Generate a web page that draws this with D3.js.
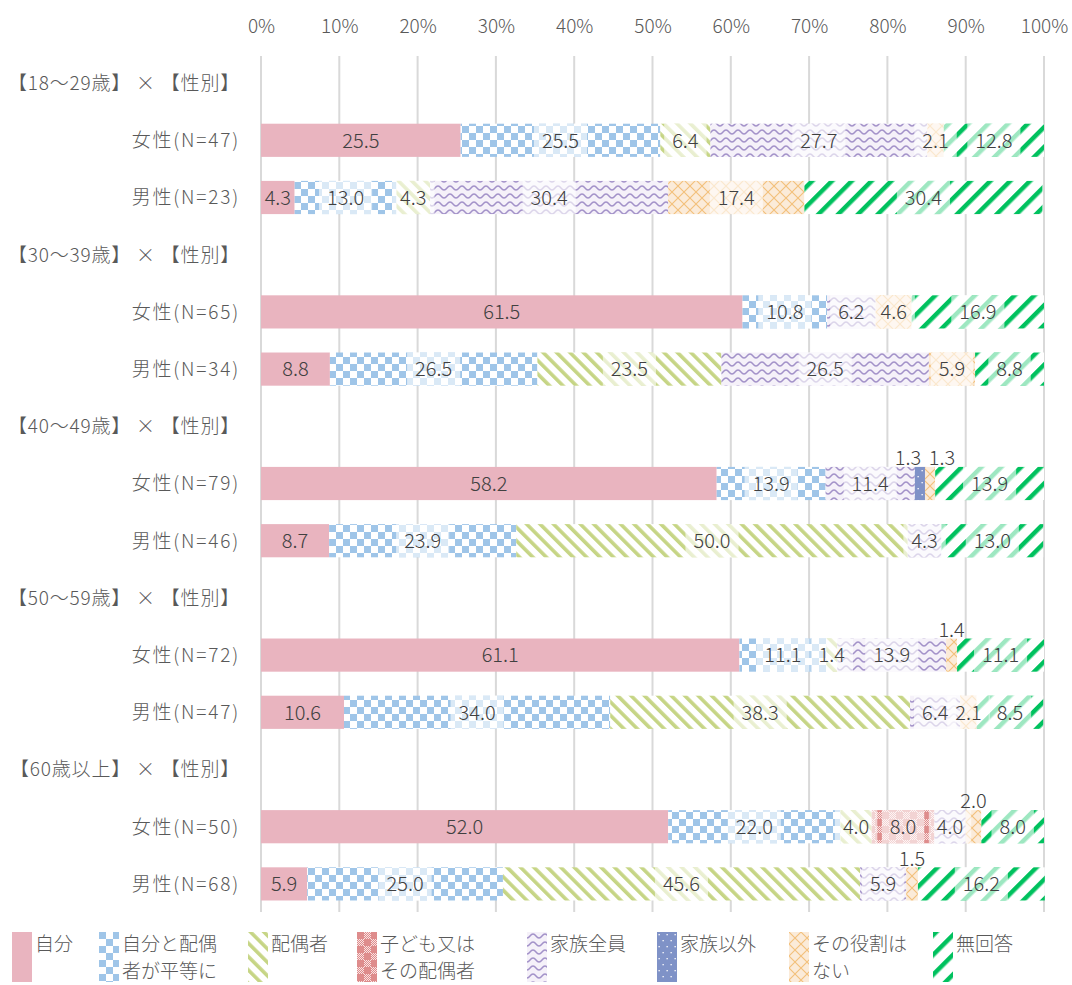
<!DOCTYPE html>
<html>
<head>
<meta charset="utf-8">
<script src="https://cdn.jsdelivr.net/npm/d3@7"></script>
<style>
  body { margin: 0; background: #fff; }
  text { font-family: "Noto Sans CJK JP", "Noto Sans", sans-serif; font-weight: 300; }
</style>
</head>
<body>
<div id="chart"></div>
<script>
// row labels (group headers have no values)
var rowLabels = ["【18～29歳】 × 【性別】", "女性(N=47)", "男性(N=23)",
    "【30～39歳】 × 【性別】", "女性(N=65)", "男性(N=34)",
    "【40～49歳】 × 【性別】", "女性(N=79)", "男性(N=46)",
    "【50～59歳】 × 【性別】", "女性(N=72)", "男性(N=47)",
    "【60歳以上】 × 【性別】", "女性(N=50)", "男性(N=68)"];

var seriesNames = ["自分", "自分と配偶者が平等に", "配偶者", "子ども又はその配偶者",
    "家族全員", "家族以外", "その役割はない", "無回答"];

// percentages per row
var jibun       = [null, 25.5, 4.3, null, 61.5, 8.8, null, 58.2, 8.7, null, 61.1, 10.6, null, 52.0, 5.9];
var byodo       = [null, 25.5, 13.0, null, 10.8, 26.5, null, 13.9, 23.9, null, 11.1, 34.0, null, 22.0, 25.0];
var haigusha    = [null, 6.4, 4.3, null, 0, 23.5, null, 0, 50.0, null, 1.4, 38.3, null, 4.0, 45.6];
var kodomo      = [null, 0, 0, null, 0, 0, null, 0, 0, null, 0, 0, null, 8.0, 0];
var kazokuZenin = [null, 27.7, 30.4, null, 6.2, 26.5, null, 11.4, 4.3, null, 13.9, 6.4, null, 4.0, 5.9];
var kazokuIgai  = [null, 0, 0, null, 0, 0, null, 1.3, 0, null, 0, 0, null, 0, 0];
var yakuwari    = [null, 2.1, 17.4, null, 4.6, 5.9, null, 1.3, 0, null, 1.4, 2.1, null, 2.0, 1.5];
var mukaito     = [null, 12.8, 30.4, null, 16.9, 8.8, null, 13.9, 13.0, null, 11.1, 8.5, null, 8.0, 16.2];

var xTicks = [0, 10, 20, 30, 40, 50, 60, 70, 80, 90, 100];

var seriesValues = [jibun, byodo, haigusha, kodomo, kazokuZenin, kazokuIgai, yakuwari, mukaito];

// layout
var width = 1072, height = 985;
var textColor = "#595959", labelColor = "#404040";
var legendX = [12, 99, 248, 357, 527, 657, 789, 933];

var svg = d3.select("#chart")
    .append("svg")
    .attr("width", width)
    .attr("height", height);

// ---------- fill patterns ----------
var defs = svg.append("defs");

function pat(id, w, h, bg, transform) {
    var p = defs.append("pattern")
        .attr("id", id)
        .attr("patternUnits", "userSpaceOnUse")
        .attr("width", w)
        .attr("height", h);
    if (transform) p.attr("patternTransform", transform);
    if (bg) p.append("rect").attr("width", w).attr("height", h).attr("fill", bg);
    return p;
}

// checker blue
var p1 = pat("p-byodo", 14, 14, "#ffffff");
p1.append("rect").attr("width", 7).attr("height", 7).attr("fill", "#9FC5E8");
p1.append("rect").attr("x", 7).attr("y", 7).attr("width", 7).attr("height", 7).attr("fill", "#9FC5E8");

// "\" stripes yellow-green
var p2 = pat("p-haigusha", 9.5, 9.5, "#ffffff", "rotate(-45)");
p2.append("rect").attr("width", 3.6).attr("height", 9.5).attr("fill", "#C6D585");

// red large/fine check
var pf = pat("p-fine", 2, 2, "#F9E3E3");
pf.append("rect").attr("width", 1).attr("height", 1).attr("fill", "#DE8C8C");
pf.append("rect").attr("x", 1).attr("y", 1).attr("width", 1).attr("height", 1).attr("fill", "#DE8C8C");
var p3 = pat("p-kodomo", 14, 14, "#ffffff");
p3.append("rect").attr("width", 14).attr("height", 14).attr("fill", "url(#p-fine)");
p3.append("rect").attr("width", 7).attr("height", 7).attr("fill", "#DE8C8C");
p3.append("rect").attr("x", 7).attr("y", 7).attr("width", 7).attr("height", 7).attr("fill", "#DE8C8C");

// purple waves
var p4 = pat("p-zenin", 12, 8, "#F5F1F9");
p4.append("path")
    .attr("d", "M0,6 C3,6 3,2 6,2 C9,2 9,6 12,6")
    .attr("fill", "none")
    .attr("stroke", "#A392C9")
    .attr("stroke-width", 1.4);

// blue with white dots
var p5 = pat("p-igai", 8, 12, "#7F92C7");
p5.append("rect").attr("x", 1.5).attr("y", 2).attr("width", 1.3).attr("height", 1.3).attr("fill", "#ffffff");
p5.append("rect").attr("x", 5.5).attr("y", 8).attr("width", 1.3).attr("height", 1.3).attr("fill", "#ffffff");

// orange diamond lattice
var p6 = pat("p-yakuwari", 12, 12, "#FBEBD9");
p6.append("path")
    .attr("d", "M0,0 L12,12 M12,0 L0,12")
    .attr("fill", "none")
    .attr("stroke", "#F3C07A")
    .attr("stroke-width", 1.1);

// "/" stripes green
var p7 = pat("p-mukaito", 14, 14, "#ffffff", "rotate(45)");
p7.append("rect").attr("width", 4.5).attr("height", 14).attr("fill", "#00C15E");

var fills = ["#E9B4BF", "url(#p-byodo)", "url(#p-haigusha)", "url(#p-kodomo)",
    "url(#p-zenin)", "url(#p-igai)", "url(#p-yakuwari)", "url(#p-mukaito)"];

// ---------- scales ----------
var x = d3.scaleLinear()
    .domain([0, 100])
    .range([261, 1044]);

var y = d3.scaleBand()
    .domain(d3.range(rowLabels.length))
    .range([54.5, 912.5])
    .paddingInner(0.42)
    .paddingOuter(0.21);

// gridlines
svg.append("g")
    .selectAll("line")
    .data(xTicks)
    .enter()
    .append("line")
    .attr("x1", function(d) { return x(d); })
    .attr("x2", function(d) { return x(d); })
    .attr("y1", 56)
    .attr("y2", 912)
    .attr("stroke", "#D9D9D9")
    .attr("stroke-width", 2);

// top axis
var axis = svg.append("g")
    .attr("transform", "translate(0,33)")
    .call(d3.axisTop(x).tickValues(xTicks).tickSize(0).tickPadding(0)
        .tickFormat(function(d) { return d + "%"; }));
axis.select(".domain").remove();
axis.selectAll("text")
    .attr("font-size", "19px")
    .attr("fill", textColor)
    .attr("font-family", "Noto Sans CJK JP, Noto Sans, sans-serif");

// row labels
svg.append("g")
    .selectAll("text")
    .data(rowLabels)
    .enter()
    .append("text")
    .attr("x", 240)
    .attr("y", function(d, i) { return y(i) + y.bandwidth() / 2; })
    .attr("dy", "0.36em")
    .attr("text-anchor", "end")
    .attr("font-size", "19px")
    .attr("letter-spacing", function(d) { return d.charAt(0) == "【" ? "0.8px" : "1.8px"; })
    .attr("fill", textColor)
    .text(function(d) { return d; });

// ---------- stacked bars ----------
var rows = rowLabels.map(function(l, i) {
    var o = { idx: i };
    seriesNames.forEach(function(s, k) { o[s] = seriesValues[k][i] || 0; });
    return o;
}).filter(function(r) { return jibun[r.idx] !== null; });

var stacked = d3.stack().keys(seriesNames)(rows);

var segs = [];
stacked.forEach(function(layer, k) {
    layer.forEach(function(d) {
        var v = d.data[layer.key];
        if (v > 0) segs.push({ k: k, row: d.data.idx, x0: d[0], x1: d[1], v: v });
    });
});

svg.append("g")
    .selectAll("rect")
    .data(segs)
    .enter()
    .append("rect")
    .attr("x", function(d) { return x(d.x0); })
    .attr("y", function(d) { return y(d.row); })
    .attr("width", function(d) { return x(d.x1) - x(d.x0); })
    .attr("height", y.bandwidth())
    .attr("fill", function(d) { return fills[d.k]; });

// ---------- data labels ----------
// small values of 家族以外 / その役割はない sit above the bar
segs.forEach(function(d) {
    d.cx = x((d.x0 + d.x1) / 2);
    d.above = (d.k == 5 || d.k == 6) && d.v < 2.05;
    d.text = d3.format(".1f")(d.v);
});

// push overlapping labels above the bar apart
var aboveByRow = d3.group(segs.filter(function(d) { return d.above; }), function(d) { return d.row; });
aboveByRow.forEach(function(list) {
    for (var i = 1; i < list.length; i++) {
        var a = list[i - 1], b = list[i];
        var need = 34;
        if (b.cx - a.cx < need) {
            var mid = (a.cx + b.cx) / 2;
            a.cx = mid - need / 2;
            b.cx = mid + need / 2;
        }
    }
});

var gLab = svg.append("g");
var inside = segs.filter(function(d) { return !d.above; });

// light box behind labels on patterned fills
var labTexts = gLab.selectAll("text.in")
    .data(inside)
    .enter()
    .append("text")
    .attr("class", "in")
    .attr("x", function(d) { return d.cx; })
    .attr("y", function(d) { return y(d.row) + y.bandwidth() / 2; })
    .attr("dy", "0.36em")
    .attr("text-anchor", "middle")
    .attr("font-size", "20px")
    .attr("fill", labelColor)
    .text(function(d) { return d.text; });

labTexts.each(function(d) {
    if (d.k == 0) return;
    var w = this.getComputedTextLength() + 16;
    gLab.insert("rect", "text")
        .attr("x", d.cx - w / 2)
        .attr("y", y(d.row))
        .attr("width", w)
        .attr("height", y.bandwidth())
        .attr("fill", "#ffffff")
        .attr("opacity", 0.62);
});

gLab.selectAll("text.up")
    .data(segs.filter(function(d) { return d.above; }))
    .enter()
    .append("text")
    .attr("class", "up")
    .attr("x", function(d) { return d.cx; })
    .attr("y", function(d) { return y(d.row) - 9; })
    .attr("dy", "0.36em")
    .attr("text-anchor", "middle")
    .attr("font-size", "20px")
    .attr("fill", labelColor)
    .text(function(d) { return d.text; });

// ---------- legend ----------
var legend = svg.append("g")
    .selectAll("g")
    .data(seriesNames)
    .enter()
    .append("g")
    .attr("transform", function(d, i) { return "translate(" + legendX[i] + ",932)"; });

legend.append("rect")
    .attr("width", 20)
    .attr("height", 50)
    .attr("fill", function(d, i) { return fills[i]; });

legend.each(function(d) {
    var lines = [d.slice(0, 5), d.slice(5)];
    var g = d3.select(this);
    lines.forEach(function(line, j) {
        if (!line) return;
        g.append("text")
            .attr("x", 23)
            .attr("y", 12 + j * 27)
            .attr("dy", "0.36em")
            .attr("font-size", "19px")
            .attr("fill", textColor)
            .text(line);
    });
});
</script>
</body>
</html>
